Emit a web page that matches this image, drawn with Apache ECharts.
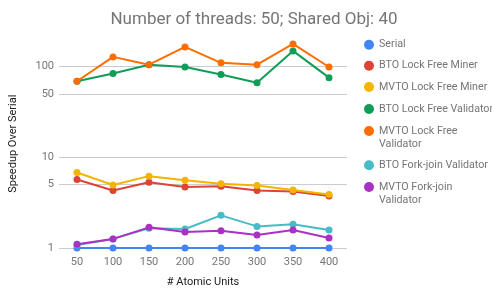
<!DOCTYPE html>
<html>
<head>
<meta charset="utf-8">
<script src="https://cdn.jsdelivr.net/npm/echarts@6/dist/echarts.min.js"></script>
<style>
  html, body { margin: 0; padding: 0; background: #fff; }
  #chart { width: 492px; height: 294px; }
</style>
</head>
<body>
<div id="chart"></div>
<script>
// x categories (# atomic units)
const units = ['50', '100', '150', '200', '250', '300', '350', '400'];
const yTicks = [1, 5, 10, 50, 100];

const serial = [1, 1, 1, 1, 1, 1, 1, 1];
const btoLockFreeMiner = [5.7, 4.3, 5.3, 4.7, 4.8, 4.3, 4.2, 3.75];
const mvtoLockFreeMiner = [6.8, 4.95, 6.2, 5.6, 5.1, 4.9, 4.35, 3.9];
const btoLockFreeValidator = [69, 84, 105, 99, 82, 66.5, 149, 75.5];
const mvtoLockFreeValidator = [69, 128, 105, 165, 110, 105, 178, 99];
const btoForkJoinValidator = [1.08, 1.26, 1.65, 1.62, 2.29, 1.73, 1.83, 1.58];
const mvtoForkJoinValidator = [1.1, 1.26, 1.69, 1.5, 1.55, 1.39, 1.58, 1.29];

const names = ['Serial', 'BTO Lock Free Miner', 'MVTO Lock Free Miner', 'BTO Lock Free Validator',
  'MVTO Lock Free Validator', 'BTO Fork-join Validator', 'MVTO Fork-join Validator'];
// wrapped names get an empty first line so the icon sits beside the first text line
const legendText = ['Serial', 'BTO Lock Free Miner', 'MVTO Lock Free Miner', 'BTO Lock Free Validator',
  '\nMVTO Lock Free\nValidator', 'BTO Fork-join Validator', '\nMVTO Fork-join\nValidator'];
const values = [serial, btoLockFreeMiner, mvtoLockFreeMiner, btoLockFreeValidator,
  mvtoLockFreeValidator, btoForkJoinValidator, mvtoForkJoinValidator];
const colors = ['#4285F4', '#DB4437', '#F4B400', '#0F9D58', '#FF6D00', '#46BDC6', '#AB30C4'];

const textGrey = '#757575';
const font = 'Roboto';

// legend rows: icon centre y of each item
const legendY = [44.7, 65.7, 87, 109, 131, 165.3, 187];

const myChart = echarts.init(document.getElementById('chart'));

const legends = names.map((n, i) => {
  const lines = legendText[i].split('\n').length;
  return {
    data: [n],
    orient: 'vertical',
    left: 364,
    top: legendY[i] - lines * 6.5,
    padding: 0,
    itemWidth: 10,
    itemHeight: 10,
    icon: 'circle',
    selectedMode: false,
    formatter: () => legendText[i],
    textStyle: {
      fontFamily: font,
      fontSize: 10.7,
      lineHeight: 13,
      color: textGrey
    }
  };
});

const option = {
  animation: false,
  backgroundColor: '#fff',
  color: colors,
  title: {
    text: 'Number of threads: 50; Shared Obj: 40',
    left: 249,
    textAlign: 'center',
    top: 6,
    textStyle: {
      fontFamily: font,
      fontSize: 17,
      fontWeight: 'normal',
      color: textGrey
    }
  },
  legend: legends,
  grid: {
    left: 57,
    right: 145,
    top: 39.3,
    bottom: 46
  },
  xAxis: {
    type: 'category',
    data: units,
    name: '# Atomic Units',
    nameLocation: 'middle',
    nameGap: 29,
    nameTextStyle: { fontFamily: font, fontSize: 11, color: '#222' },
    axisLine: { show: false },
    axisTick: { show: false },
    axisLabel: { fontFamily: font, fontSize: 11, color: textGrey, margin: 9 }
  },
  yAxis: {
    type: 'log',
    min: 1,
    max: 200,
    name: 'Speedup Over Serial',
    nameLocation: 'middle',
    nameGap: 40,
    nameTextStyle: { fontFamily: font, fontSize: 11, color: '#222' },
    axisLine: { show: false },
    axisTick: { show: false, customValues: yTicks },
    axisLabel: { fontFamily: font, fontSize: 11, color: textGrey, margin: 5, customValues: yTicks },
    splitLine: { show: true, lineStyle: { color: '#cccccc', width: 1 } }
  },
  series: names.map((n, i) => ({
    name: n,
    type: 'line',
    data: values[i],
    symbol: 'circle',
    symbolSize: 7,
    lineStyle: { width: 2 },
    z: 2 + i
  }))
};

myChart.setOption(option);
</script>
</body>
</html>
